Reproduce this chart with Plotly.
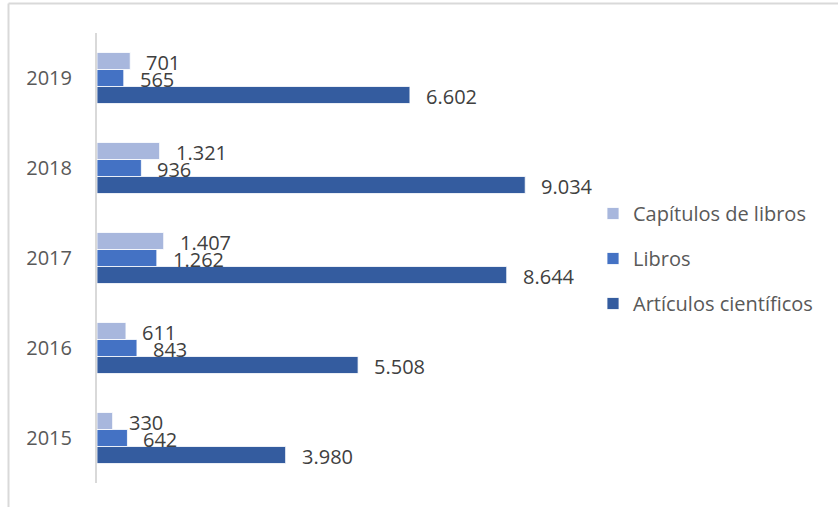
import plotly.graph_objects as go

years = ["2015", "2016", "2017", "2018", "2019"]
articulos = [3980, 5508, 8644, 9034, 6602]
libros = [642, 843, 1262, 936, 565]
capitulos = [330, 611, 1407, 1321, 701]

series = [
    ("Artículos científicos", articulos, "#345C9F", -17, 3),
    ("Libros", libros, "#4472C4", 0, 2),
    ("Capítulos de libros", capitulos, "#A8B7DD", 17, 1),
]

W, H = 838, 507
L, R, T, B = 97, 838 - 571, 33, 24
FONT = "Open Sans"

fig = go.Figure()
annotations = []
for i, (name, vals, color, ys, rank) in enumerate(series):
    fig.add_trace(go.Bar(
        y=years, x=vals, name=name, orientation="h",
        marker=dict(color=color, line=dict(color="white", width=0.8)),
        legendgroup=name, legendrank=rank,
    ))
    for k, v in enumerate(vals):
        annotations.append(dict(
            x=v, y=k, xref="x", yref="y", text=f"{v:,}".replace(",", "."),
            showarrow=False, xanchor="left", yanchor="middle",
            xshift=14, yshift=ys - 1,
            font=dict(family=FONT, size=20, color="#404040"),
        ))

pw = W - L - R
ph = H - T - B
def px_x(p):
    return (p - L) / pw
def px_y(p):
    return 1 - (p - T) / ph

shapes = [
    dict(type="line", xref="paper", yref="paper",
         x0=px_x(8.5), x1=px_x(845), y0=px_y(3.5), y1=px_y(3.5),
         line=dict(color="#D9D9D9", width=2)),
    dict(type="line", xref="paper", yref="paper",
         x0=px_x(8.5), x1=px_x(8.5), y0=px_y(3.5), y1=px_y(520),
         line=dict(color="#D9D9D9", width=2)),
]

fig.update_layout(
    width=W, height=H,
    margin=dict(l=L, r=R, t=T, b=B, autoexpand=False),
    paper_bgcolor="white", plot_bgcolor="white",
    barmode="group", bargap=0.4333, bargroupgap=0,
    font=dict(family=FONT, size=20, color="#595959"),
    showlegend=True,
    legend=dict(
        x=px_x(593), y=px_y(194), xanchor="left", yanchor="top",
        traceorder="grouped", tracegroupgap=16,
        font=dict(family=FONT, size=20, color="#595959"),
        bgcolor="rgba(0,0,0,0)",
    ),
    xaxis=dict(range=[0, 10000], visible=False, fixedrange=True),
    yaxis=dict(
        type="category", categoryorder="array", categoryarray=years,
        range=[-0.5, len(years) - 0.5],
        showline=True, linecolor="#D9D9D9", linewidth=2,
        showgrid=False, zeroline=False, ticks="",
        ticklabelstandoff=19,
        tickfont=dict(family=FONT, size=20, color="#595959"),
    ),
    annotations=annotations,
    shapes=shapes,
)

fig.write_html("out.html")
